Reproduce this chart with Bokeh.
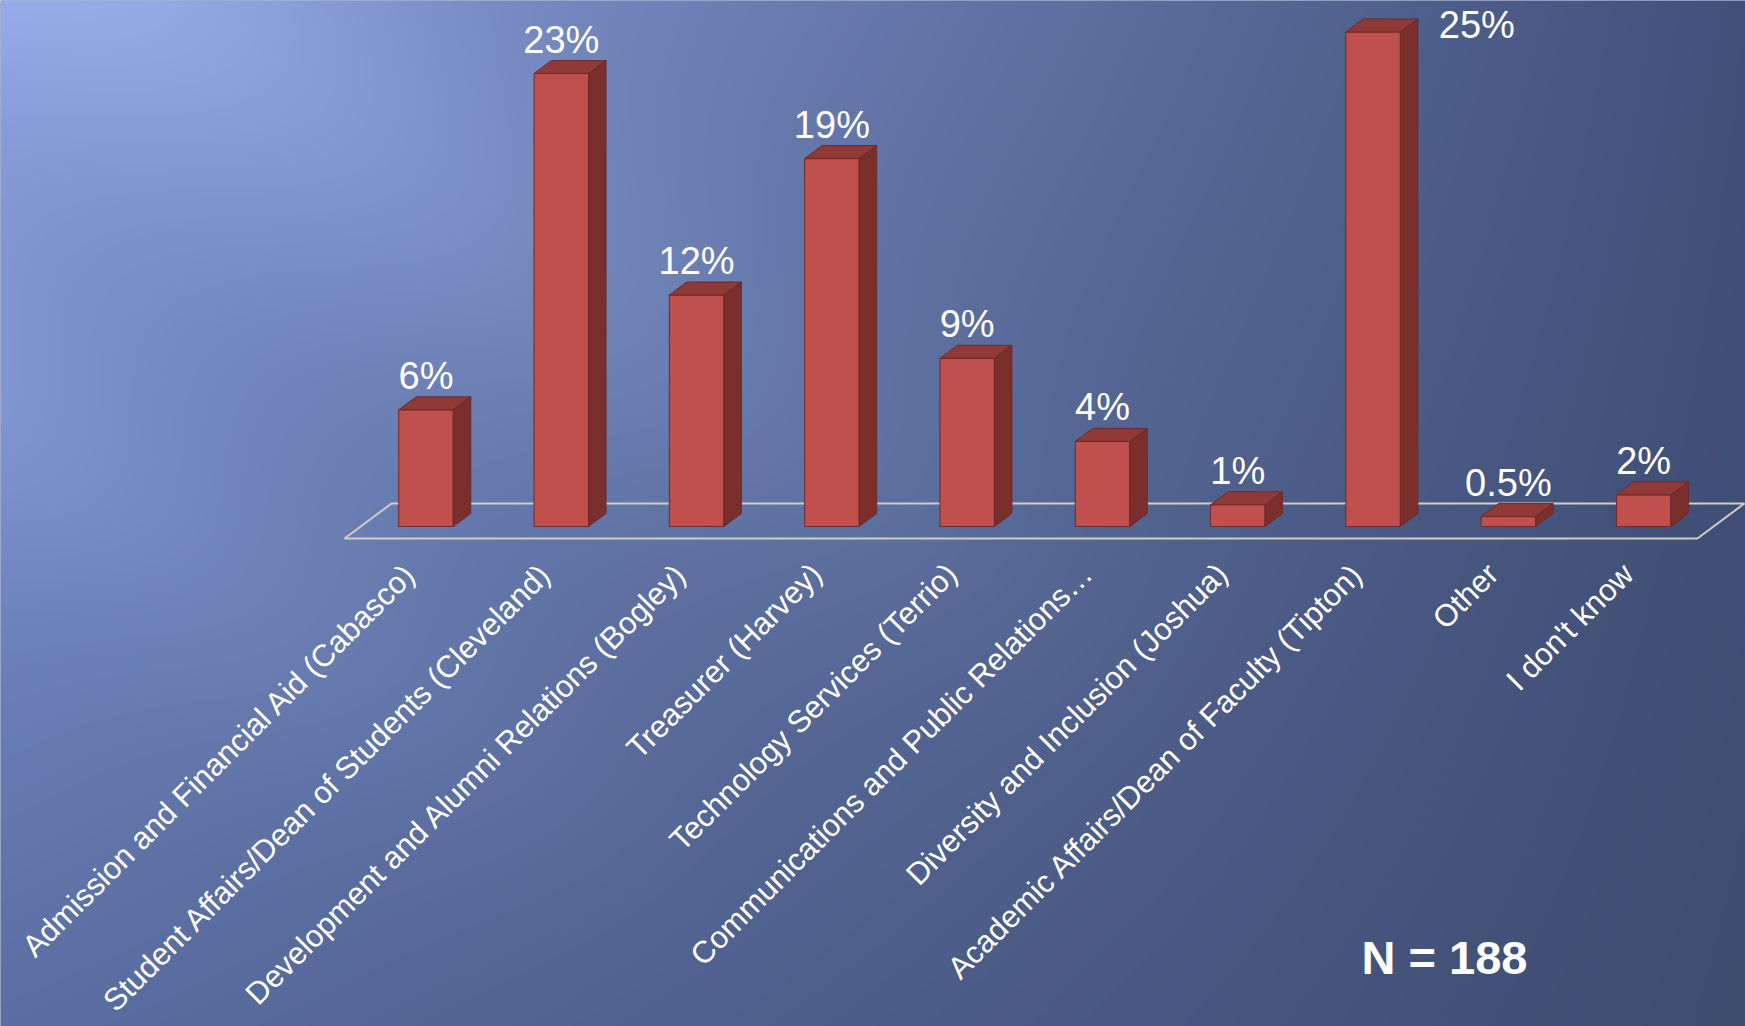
import numpy as np
from bokeh.plotting import figure
from bokeh.models import Range1d, Label, ColumnDataSource
from bokeh.core.properties import value
from bokeh.embed import file_html
from bokeh.resources import INLINE

# ---------------- data ----------------
categories = [
    "Admission and Financial Aid (Cabasco)",
    "Student Affairs/Dean of Students (Cleveland)",
    "Development and Alumni Relations (Bogley)",
    "Treasurer (Harvey)",
    "Technology Services (Terrio)",
    "Communications and Public Relations\u2026",
    "Diversity and Inclusion (Joshua)",
    "Academic Affairs/Dean of Faculty (Tipton)",
    "Other",
    "I don't know",
]
values = [5.9, 22.9, 11.7, 18.6, 8.5, 4.3, 1.1, 25.0, 0.5, 1.6]
value_labels = ["6%", "23%", "12%", "19%", "9%", "4%", "1%", "25%", "0.5%", "2%"]
n_note = "N = 188"

# ---------------- layout / style ----------------
W, H = 1745, 1026
PX_X = 135.3      # pixels per category step
PX_Y = 19.78      # pixels per percent
X0_PX = 425.5     # pixel x of first category centre
BASE_PX = 526.0   # pixel y of bar bottoms

x_start = -X0_PX / PX_X
x_end = x_start + W / PX_X
y_end = BASE_PX / PX_Y
y_start = y_end - H / PX_Y

bar_w = 54.5 / PX_X
dep_x = 17.5 / PX_X
dep_y = 13.0 / PX_Y

FRONT = "#c0504d"
TOP = "#8f3a37"
SIDE = "#7a2f2d"
EDGE = "#6e2a28"
FLOOR = "#cfcdc4"
FONT = "Liberation Sans"

p = figure(width=W, height=H, x_range=Range1d(x_start, x_end), y_range=Range1d(y_start, y_end),
           output_backend="svg", toolbar_location=None, min_border=0,
           x_axis_location=None, y_axis_location=None)
p.xgrid.grid_line_color = None
p.ygrid.grid_line_color = None
p.outline_line_color = None
p.background_fill_color = "#56699b"
p.border_fill_color = "#56699b"

# ---------------- background gradient ----------------
nx, ny = W // 2, H // 2
X = (np.arange(nx) + 0.5) * W / nx
Y = (np.arange(ny) + 0.5) * H / ny
XX, YY = np.meshgrid(X, Y)
u, v = XX / W, YY / H
TL = np.array([138, 160, 221], float)
TR = np.array([66, 81, 122], float)
BL = np.array([90, 110, 162], float)
BR = np.array([62, 76, 112], float)
col = (TL[None, None] * ((1 - u) * (1 - v))[..., None] + TR[None, None] * (u * (1 - v))[..., None]
       + BL[None, None] * ((1 - u) * v)[..., None] + BR[None, None] * (u * v)[..., None])
# soft diagonal light streaks
d = np.array([0.835, 0.55])
for px0, py0, amp, sig, ln in [(150.0, 0.0, 16.0, 110.0, 1300.0), (-200.0, 300.0, 12.0, 90.0, 1100.0)]:
    along = (XX - px0) * d[0] + (YY - py0) * d[1]
    perp = -(XX - px0) * d[1] + (YY - py0) * d[0]
    fade = np.clip(1.0 - along / ln, 0, 1)
    streak = amp * np.exp(-0.5 * (perp / sig) ** 2) * fade
    col = col + streak[..., None] * np.array([1.0, 1.05, 1.1])[None, None]
col = np.clip(col, 0, 255).astype(np.uint8)
img = np.empty((ny, nx), dtype=np.uint32)
view = img.view(dtype=np.uint8).reshape((ny, nx, 4))
view[..., 0] = col[..., 0]
view[..., 1] = col[..., 1]
view[..., 2] = col[..., 2]
view[..., 3] = 255
p.image_rgba(image=[img[::-1]], x=x_start, y=y_start, dw=x_end - x_start, dh=y_end - y_start)

# ---------------- floor ----------------
n = len(values)
fl_front_y = -12.0 / PX_Y
fl_back_y = 23.0 / PX_Y
fl_left = -0.5 - 0.102
fl_right = (n - 1) + 0.5 - 0.103
fl_off = 47.0 / PX_X
p.patch([fl_left, fl_right, fl_right + fl_off, fl_left + fl_off],
        [fl_front_y, fl_front_y, fl_back_y, fl_back_y],
        fill_color=None, line_color=FLOOR, line_width=2)

# ---------------- 3D bars ----------------
idx = np.arange(n, dtype=float)
vals = np.array(values, float)
L = idx - bar_w / 2
R = idx + bar_w / 2
p.quad(left=L, right=R, bottom=0, top=vals, fill_color=FRONT, line_color=EDGE, line_width=1)
top_xs = [[l, r, r + dep_x, l + dep_x] for l, r in zip(L, R)]
top_ys = [[t, t, t + dep_y, t + dep_y] for t in vals]
p.patches(top_xs, top_ys, fill_color=TOP, line_color=EDGE, line_width=1)
side_xs = [[r, r + dep_x, r + dep_x, r] for r in R]
side_ys = [[0, dep_y, t + dep_y, t] for t in vals]
p.patches(side_xs, side_ys, fill_color=SIDE, line_color=EDGE, line_width=1)

# ---------------- value labels ----------------
gap = 21.0 / PX_Y
cap = 27.0 / PX_Y
lx, ly, la = [], [], []
for i, t in enumerate(vals):
    yb = t + dep_y + gap
    if yb + cap > y_end:   # no room above: place to the right of the bar
        lx.append(i + bar_w / 2 + dep_x + 21.0 / PX_X)
        ly.append(t + 7.5 / PX_Y)
        la.append("left")
    else:
        lx.append(float(i))
        ly.append(yb)
        la.append("center")
src = ColumnDataSource(dict(x=lx, y=ly, t=value_labels, a=la))
p.text(x="x", y="y", text="t", text_align="a", source=src, text_baseline="alphabetic",
       text_font=value(FONT), text_font_size="38px", text_color="white")

# ---------------- category labels ----------------
cx = idx - 28.0 / PX_X
cy = np.full(n, -30.0 / PX_Y)
p.text(x=cx, y=cy, text=categories, angle=np.pi / 4, text_align="right", text_baseline="top",
       text_font=value(FONT), text_font_size="31px", text_color="white")

# ---------------- N note ----------------
p.add_layout(Label(x=1361, y=H - 957, x_units="screen", y_units="screen", text=n_note,
                   text_font=FONT, text_font_size="47px", text_font_style="bold",
                   text_color="white", text_baseline="alphabetic"))

open("out.html", "w").write(file_html(p, INLINE))
